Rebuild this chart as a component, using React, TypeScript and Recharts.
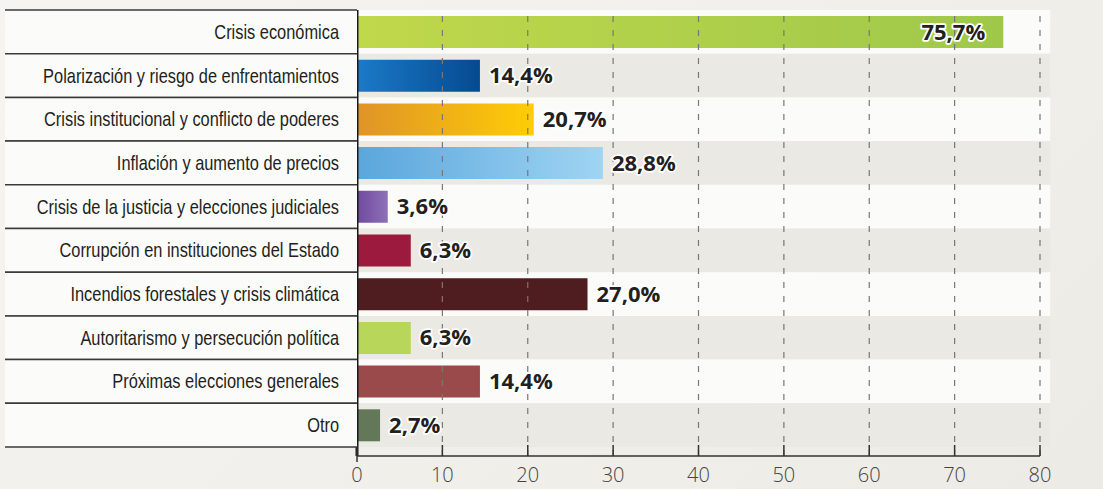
import { BarChart, Bar, XAxis, YAxis, ReferenceArea, ReferenceLine, Cell } from 'recharts'

// ── data ────────────────────────────────────────────────────────────────────

const categories = [
  'Crisis económica',
  'Polarización y riesgo de enfrentamientos',
  'Crisis institucional y conflicto de poderes',
  'Inflación y aumento de precios',
  'Crisis de la justicia y elecciones judiciales',
  'Corrupción en instituciones del Estado',
  'Incendios forestales y crisis climática',
  'Autoritarismo y persecución política',
  'Próximas elecciones generales',
  'Otro',
]

const values = [75.7, 14.4, 20.7, 28.8, 3.6, 6.3, 27.0, 6.3, 14.4, 2.7]

const gradFrom = ['#c0d84b', '#1b7ac8', '#df9427', '#5aa6dc', '#6e4a9f', '#9b1a3e', '#4f1d1f', '#b8d65a', '#9a4a4a', '#627858']
const gradTo = ['#9fc84a', '#054a90', '#ffcd05', '#9fd4f3', '#8f70b7', '#9b1a3e', '#4f1d1f', '#b8d65a', '#9a4a4a', '#627858']

const xTicks = [0, 10, 20, 30, 40, 50, 60, 70, 80]

const data = categories.map((name, i) => ({ name, value: values[i] }))

// ── layout ──────────────────────────────────────────────────────────────────

const W = 1103
const H = 489
const TOP = 10
const AXIS_Y = 456
const PAD_BOTTOM = 9
const BAND = (AXIS_Y - PAD_BOTTOM - TOP) / categories.length

const fmt = (v: number) => v.toFixed(1).replace('.', ',') + '%'

function CategoryTick({ x, y, payload }: any) {
  return (
    <g>
      <rect x={5} y={y - BAND / 2} width={x - 5} height={BAND} fill="#fbfbf9" />
      <line x1={5} x2={x} y1={y - BAND / 2} y2={y - BAND / 2} stroke="#3a3a3a" strokeWidth={1.5} />
      <line x1={5} x2={x} y1={y + BAND / 2} y2={y + BAND / 2} stroke="#3a3a3a" strokeWidth={1.5} />
      {/* condensed face is not installed, so squeeze a regular sans */}
      <text
        transform={`translate(${x - 18},${y + 7}) scale(0.82,1)`}
        textAnchor="end"
        fill="#231f20"
        fontSize={20}
        fontFamily="'Liberation Sans', Arial, sans-serif"
      >
        {payload.value}
      </text>
    </g>
  )
}

function ValueTick({ x, y, payload }: any) {
  return (
    <g>
      <line x1={x} x2={x} y1={y - 11} y2={payload.value === 0 ? y + 6 : y} stroke="#333" strokeWidth={1.5} />
      <text x={x} y={y + 26} textAnchor="middle" fill="#444" fontSize={20} fontWeight={300} fontFamily="'Open Sans', sans-serif">
        {payload.value}
      </text>
    </g>
  )
}

function ValueLabel({ x, y, width, height, value, index }: any) {
  const inside = index === 0
  return (
    <text
      x={inside ? x + width - 18 : x + width + 9}
      y={y + height / 2}
      dy={7.5}
      textAnchor={inside ? 'end' : 'start'}
      fill="#231f20"
      stroke="#ffffff"
      strokeWidth={3.5}
      strokeLinejoin="round"
      paintOrder="stroke"
      fontSize={22}
      fontWeight={700}
      fontFamily="'Open Sans', sans-serif"
    >
      {fmt(value)}
    </text>
  )
}

export default function App() {
  return (
    <div
      style={{
        position: 'absolute',
        left: 0,
        top: 0,
        width: W,
        height: H,
        background: 'linear-gradient(135deg, #f5f4f1 0%, #ecebe5 100%)',
      }}
    >
      <BarChart
        width={W}
        height={H}
        data={data}
        layout="vertical"
        margin={{ top: TOP, right: 63, bottom: 0, left: 0 }}
      >
        <defs>
          {categories.map((_, i) => (
            <linearGradient key={i} id={`bar${i}`} x1="0" y1="0" x2="1" y2="0">
              <stop offset="0%" stopColor={gradFrom[i]} />
              <stop offset="100%" stopColor={gradTo[i]} />
            </linearGradient>
          ))}
        </defs>
        {categories.map((c, i) => (
          <ReferenceArea
            key={c}
            y1={c}
            y2={c}
            x1={0}
            x2={81.2}
            ifOverflow="visible"
            fill={i % 2 === 0 ? '#fbfbf9' : '#ebe9e3'}
            fillOpacity={1}
            stroke="none"
          />
        ))}
        {xTicks.slice(1).map((t) => (
          <ReferenceLine key={t} x={t} stroke="#777" strokeWidth={1.2} strokeDasharray="6 8" />
        ))}
        <XAxis
          type="number"
          domain={[0, 80]}
          ticks={xTicks}
          height={H - AXIS_Y}
          axisLine={{ stroke: '#333', strokeWidth: 1.5 }}
          tickLine={false}
          tickSize={0}
          tickMargin={0}
          tick={<ValueTick />}
          interval={0}
        />
        <YAxis
          type="category"
          dataKey="name"
          width={357}
          padding={{ top: 0, bottom: PAD_BOTTOM }}
          axisLine={{ stroke: '#1a1a1a', strokeWidth: 3 }}
          tickLine={false}
          tickSize={0}
          tickMargin={0}
          tick={<CategoryTick />}
          interval={0}
        />
        <Bar dataKey="value" barSize={32} isAnimationActive={false} label={<ValueLabel />}>
          {data.map((_, i) => (
            <Cell key={i} fill={`url(#bar${i})`} />
          ))}
        </Bar>
      </BarChart>
    </div>
  )
}
